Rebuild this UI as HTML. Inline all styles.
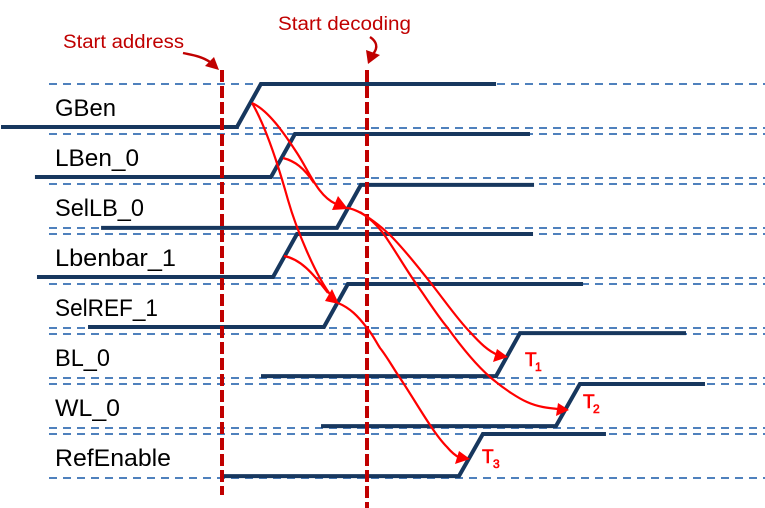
<!DOCTYPE html>
<html lang="en">
<head>
<meta charset="utf-8">
<title>Timing diagram</title>
<style>
html,body{margin:0;padding:0;background:#fff;width:765px;height:508px;overflow:hidden}
svg{display:block}
text{font-family:"Liberation Sans",sans-serif}
</style>
</head>
<body>
<svg id="chart" xmlns="http://www.w3.org/2000/svg" width="765" height="508" viewBox="0 0 765 508">
  <g id="grid"></g>
  <g id="signals"></g>
  <g id="labels"></g>

  <g id="markers"></g>

  <g>
    <text x="63" y="48" font-size="19" fill="#c00000" textLength="121" lengthAdjust="spacingAndGlyphs">Start address</text>
    <path d="M183 53 C192 55,201 56,210 62" fill="none" stroke="#c00000" stroke-width="2.4"/>
    <polygon points="219,70 214,57 205,66" fill="#c00000"/>
  </g>
  <g>
    <text x="278" y="30" font-size="19" fill="#c00000" textLength="133" lengthAdjust="spacingAndGlyphs">Start decoding</text>
    <path d="M370 37 C376 41,379 47,373 54" fill="none" stroke="#c00000" stroke-width="2.4"/>
    <polygon points="368,64 366,50 380,55" fill="#c00000"/>
  </g>

  <g fill="none" stroke="#ff0000" stroke-width="2.2">
    <path d="M252 103 C268 110,284 133,297 153 C310 173,318 196,336 204"/>
    <path d="M283 158 C295 161,304 168,314 183"/>
    <path d="M252 103 C262 120,274 150,288 200 C296 228,315 275,332 297"/>
    <path d="M284 256 C300 259,312 272,328 293"/>
    <path d="M347 208 C358 209,375 221,390 235 C405 250,418 267,430 282 C445 301,458 320,470 332 C480 343,488 351,498 355"/>
    <path d="M360 212 C368 217,376 224,383 233 C395 250,405 268,417 285 C427 299,437 315,447 327 C460 345,475 364,490 377 C505 390,520 399,527 402 C538 407,548 408,558 409"/>
    <path d="M338 303 C350 308,358 316,367 328 C373 335,376 342,380 348 C388 358,393 368,400 378 C410 393,420 410,430 425 C436 434,441 441,447 447 C452 453,456 456,460 458"/>
  </g>
  <g fill="#ff0000">
    <polygon points="348,209 338,196 332,210"/>
    <polygon points="339,304 332,289 325,301"/>
    <polygon points="508,357 497,349 493,362"/>
    <polygon points="569,410 558,403 556,416"/>
    <polygon points="470,459 459,451 455,464"/>
  </g>

  <g fill="#ff0000" stroke="#ff0000" stroke-width="0.6">
    <text x="525" y="366" font-size="19">T</text>
    <text x="535" y="371" font-size="12">1</text>
    <text x="583" y="408" font-size="19">T</text>
    <text x="593" y="413" font-size="12">2</text>
    <text x="482" y="463" font-size="19">T</text>
    <text x="493" y="468" font-size="12">3</text>
  </g>
</svg>
<script>
// Time unit: 0 = "Start address", 100 = "Start decoding".
const signalNames = ["GBen", "LBen_0", "SelLB_0", "Lbenbar_1", "SelREF_1", "BL_0", "WL_0", "RefEnable"];
const traceStart  = [-152.4, -129, -83.4, -127.6, -92.4, 26.9, 68.3, 0];
const riseStart   = [10.3, 33.8, 79.3, 35.2, 70.3, 189, 230.3, 163.4];
const traceEnd    = [189, 212.4, 215.2, 214.5, 249, 320, 333.1, 264.8];
const lowLevels   = [0, 0, -0.02, 0, 0, 0.02, 0.02, 0.02];
const highLevels  = [1, 1, 0.98, 1, 1, 1.02, 1, 1];
const riseDuration = 16.5;
const markerTimes = [0, 100];
const markerNames = ["start-address-marker", "start-decoding-marker"];
const labelWidths = [61, 84, 89, 121, 103, 55, 65, 116];

const NS = "http://www.w3.org/2000/svg";
function xOf(t) { return 222 + t * 1.45; }
function rowTop(i) { return 84 + 50 * i; }
function yOf(i, level) { return rowTop(i) + (1 - level) * 43; }

const grid = document.getElementById("grid");
const signals = document.getElementById("signals");
const labels = document.getElementById("labels");
const markers = document.getElementById("markers");

function slug(s) { return s.toLowerCase().replace(/_/g, "-"); }

function guide(y, name) {
  const l = document.createElementNS(NS, "line");
  l.setAttribute("x1", 49);
  l.setAttribute("x2", 765);
  l.setAttribute("y1", y);
  l.setAttribute("y2", y);
  l.setAttribute("stroke", "#4f81bd");
  l.setAttribute("stroke-width", 2);
  l.setAttribute("stroke-dasharray", "8 6");
  
  
  grid.appendChild(l);
}

signalNames.forEach(function (name, i) {
  guide(rowTop(i), slug(name) + "-high-guide");
  guide(rowTop(i) + 44, slug(name) + "-low-guide");

  const p = document.createElementNS(NS, "polyline");
  const low = yOf(i, lowLevels[i]);
  const high = yOf(i, highLevels[i]);
  p.setAttribute("points", [
    xOf(traceStart[i]) + "," + low,
    xOf(riseStart[i]) + "," + low,
    xOf(riseStart[i] + riseDuration) + "," + high,
    xOf(traceEnd[i]) + "," + high
  ].join(" "));
  p.setAttribute("fill", "none");
  p.setAttribute("stroke", "#17375e");
  p.setAttribute("stroke-width", 4);
  p.setAttribute("stroke-linejoin", "miter");
  
  
  signals.appendChild(p);

  const t = document.createElementNS(NS, "text");
  t.setAttribute("x", 55);
  t.setAttribute("y", 116 + 50 * i);
  t.setAttribute("font-size", 24);
  t.setAttribute("fill", "#000");
  t.setAttribute("textLength", labelWidths[i]);
  t.setAttribute("lengthAdjust", "spacingAndGlyphs");
  t.textContent = name;
  
  
  labels.appendChild(t);
});

markerTimes.forEach(function (time, i) {
  const l = document.createElementNS(NS, "line");
  l.setAttribute("x1", xOf(time));
  l.setAttribute("x2", xOf(time));
  l.setAttribute("y1", 70);
  l.setAttribute("y2", i === 0 ? 495 : 508);
  l.setAttribute("stroke", "#c00000");
  l.setAttribute("stroke-width", 4);
  l.setAttribute("stroke-dasharray", "12 4");
  
  
  markers.appendChild(l);
});
</script>
</body>
</html>
